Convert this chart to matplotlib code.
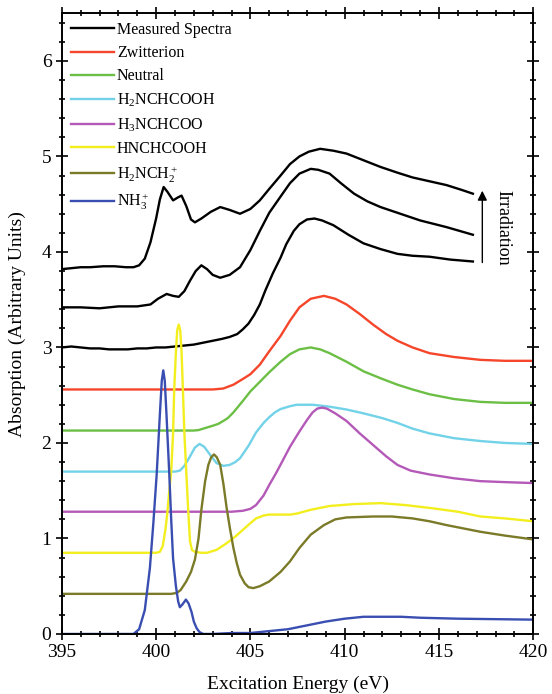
import numpy as np
import matplotlib
matplotlib.use('Agg')
import matplotlib.pyplot as plt
from matplotlib.ticker import MultipleLocator

plt.rcParams['font.family'] = ['Liberation Serif', 'DejaVu Serif']
plt.rcParams['mathtext.fontset'] = 'custom'
plt.rcParams['mathtext.rm'] = 'Liberation Serif'
plt.rcParams['mathtext.it'] = 'Liberation Serif:italic'

# measured spectra (three irradiation stages, already offset)
meas1_x = [395, 395.5, 396, 396.5, 397, 397.5, 398, 398.5, 399, 399.5, 400, 400.5, 401, 401.5, 402, 402.5,
           403, 403.5, 403.9, 404.3, 404.6, 404.9, 405.2, 405.5, 405.8, 406.2, 406.6, 406.9, 407.3, 407.6,
           408.0, 408.4, 408.8, 409.4, 410.2, 411.0, 411.9, 412.8, 413.6, 414.5, 415.6, 416.8]
meas1_y = [3.00, 3.01, 3.00, 2.99, 2.99, 2.98, 2.98, 2.98, 2.99, 2.99, 3.00, 3.00, 3.01, 3.02, 3.03, 3.05,
           3.07, 3.09, 3.11, 3.14, 3.19, 3.25, 3.34, 3.45, 3.60, 3.78, 3.94, 4.08, 4.22, 4.29,
           4.34, 4.35, 4.33, 4.28, 4.18, 4.09, 4.03, 3.98, 3.96, 3.95, 3.92, 3.90]
meas2_x = [395, 396, 397, 398, 399, 399.7, 400.1, 400.56, 400.9, 401.2, 401.5, 401.8, 402.1, 402.4, 402.7,
           403.0, 403.4, 403.9, 404.45, 405.0, 405.5, 406.0, 406.6, 407.1, 407.6, 408.2, 408.6, 409.2,
           409.8, 410.5, 411.2, 411.9, 412.8, 414.0, 415.4, 416.8]
meas2_y = [3.42, 3.42, 3.41, 3.43, 3.43, 3.45, 3.51, 3.56, 3.54, 3.53, 3.59, 3.70, 3.80, 3.86, 3.82,
           3.76, 3.73, 3.76, 3.84, 4.02, 4.22, 4.41, 4.58, 4.72, 4.82, 4.87, 4.86, 4.82,
           4.72, 4.61, 4.53, 4.47, 4.41, 4.33, 4.26, 4.18]
meas3_x = [395, 395.5, 396, 396.5, 397.2, 397.8, 398.4, 398.8, 399.1, 399.4, 399.7, 400.0, 400.2, 400.4,
           400.6, 400.9, 401.15, 401.35, 401.6, 401.85, 402.06, 402.4, 402.9, 403.4, 403.9, 404.45, 405.0,
           405.5, 406.0, 406.6, 407.1, 407.6, 408.1, 408.7, 409.4, 410.1, 411.0, 411.9, 412.8, 413.6,
           414.5, 415.4, 416.2, 416.8]
meas3_y = [3.82, 3.83, 3.84, 3.84, 3.85, 3.85, 3.84, 3.84, 3.86, 3.93, 4.10, 4.35, 4.55, 4.68,
           4.63, 4.54, 4.57, 4.59, 4.48, 4.34, 4.31, 4.35, 4.42, 4.47, 4.44, 4.40, 4.45,
           4.54, 4.66, 4.80, 4.92, 5.00, 5.05, 5.08, 5.06, 5.03, 4.96, 4.89, 4.83, 4.78,
           4.74, 4.70, 4.65, 4.61]

# calculated spectra
zwit_x = [395, 400, 403.0, 403.56, 404.1, 404.6, 405.0, 405.5, 406.0, 406.6, 407.1, 407.6, 408.2, 408.9,
          409.5, 410.1, 410.8, 411.5, 412.2, 412.8, 413.6, 414.5, 415.8, 417.2, 418.5, 420]
zwit_y = [2.56, 2.56, 2.56, 2.57, 2.61, 2.67, 2.72, 2.82, 2.96, 3.12, 3.28, 3.42, 3.51, 3.54,
          3.51, 3.45, 3.35, 3.24, 3.14, 3.07, 3.00, 2.94, 2.90, 2.87, 2.86, 2.86]
neut_x = [395, 400, 402.0, 402.25, 402.5, 403.0, 403.3, 403.56, 403.8, 404.1, 404.35, 404.6, 405.0, 405.5,
          406.0, 406.6, 407.1, 407.6, 408.2, 408.7, 409.2, 410.1, 411.0, 412.0, 412.8, 413.6, 414.5,
          415.8, 417.2, 418.5, 420]
neut_y = [2.13, 2.13, 2.13, 2.135, 2.15, 2.18, 2.20, 2.23, 2.26, 2.32, 2.38, 2.44, 2.54, 2.64,
          2.74, 2.85, 2.93, 2.98, 3.00, 2.98, 2.94, 2.85, 2.75, 2.67, 2.61, 2.56, 2.51,
          2.46, 2.43, 2.42, 2.42]
h2n_x = [395, 400, 401.0, 401.26, 401.5, 401.8, 402.05, 402.3, 402.55, 402.85, 403.2, 403.56, 403.9, 404.2,
         404.45, 404.9, 405.3, 405.7, 406.0, 406.3, 406.6, 407.1, 407.45, 408.3, 409.2, 410.1, 411.0,
         412.0, 412.8, 413.6, 414.5, 415.8, 417.2, 418.5, 420]
h2n_y = [1.70, 1.70, 1.70, 1.71, 1.76, 1.86, 1.95, 1.99, 1.96, 1.88, 1.79, 1.76, 1.77, 1.80,
         1.84, 1.97, 2.11, 2.21, 2.27, 2.32, 2.355, 2.385, 2.40, 2.40, 2.38, 2.35, 2.31,
         2.26, 2.21, 2.15, 2.10, 2.05, 2.02, 2.00, 1.99]
h3n_x = [395, 400, 404.0, 404.6, 405.0, 405.3, 405.7, 406.0, 406.35, 406.7, 407.1, 407.6, 408.0, 408.3,
         408.55, 408.8, 409.05, 409.5, 410.1, 410.8, 411.5, 412.2, 412.8, 413.5, 414.5, 415.8, 417.2,
         418.5, 420]
h3n_y = [1.28, 1.28, 1.28, 1.29, 1.31, 1.35, 1.45, 1.56, 1.68, 1.81, 1.96, 2.12, 2.24, 2.32,
         2.36, 2.37, 2.36, 2.31, 2.23, 2.10, 1.98, 1.86, 1.77, 1.71, 1.67, 1.63, 1.60,
         1.59, 1.58]
hnc_x = [395, 398, 400.0, 400.2, 400.35, 400.5, 400.6, 400.7, 400.8, 400.9, 400.96, 401.05, 401.12, 401.2,
         401.28, 401.35, 401.42, 401.5, 401.6, 401.7, 401.8, 401.9, 402.06, 402.4, 402.7, 403.2, 403.74,
         404.2, 404.6, 405.0, 405.3, 405.7, 406.0, 406.6, 407.1, 407.45, 408.2, 409.2, 410.5, 411.9,
         413.2, 414.5, 416.0, 417.2, 418.5, 420]
hnc_y = [0.85, 0.85, 0.85, 0.86, 0.92, 1.10, 1.28, 1.50, 1.70, 2.10, 2.56, 2.95, 3.18, 3.24,
         3.18, 2.95, 2.56, 2.10, 1.70, 1.30, 0.97, 0.88, 0.86, 0.85, 0.85, 0.88, 0.95,
         1.02, 1.09, 1.16, 1.21, 1.24, 1.25, 1.25, 1.25, 1.26, 1.30, 1.34, 1.36, 1.37,
         1.35, 1.32, 1.28, 1.23, 1.21, 1.18]
ch2_x = [395, 398, 400, 400.8, 401.1, 401.3, 401.6, 401.85, 402.06, 402.25, 402.4, 402.6, 402.77, 402.92,
         403.07, 403.22, 403.4, 403.57, 403.74, 403.92, 404.1, 404.28, 404.45, 404.7, 404.9, 405.15, 405.5,
         406.0, 406.6, 407.1, 407.6, 408.2, 408.9, 409.5, 410.1, 411.5, 412.5, 413.6, 414.5, 415.4,
         417.2, 418.5, 420]
ch2_y = [0.42, 0.42, 0.42, 0.42, 0.43, 0.46, 0.55, 0.65, 0.78, 1.00, 1.30, 1.60, 1.77, 1.85,
         1.88, 1.85, 1.77, 1.57, 1.32, 1.10, 0.90, 0.74, 0.62, 0.53, 0.49, 0.48, 0.50,
         0.55, 0.65, 0.76, 0.90, 1.04, 1.14, 1.20, 1.22, 1.23, 1.23, 1.21, 1.18, 1.14,
         1.07, 1.03, 0.99]
nh3_x = [395, 396, 397, 398, 398.8, 399.1, 399.4, 399.67, 399.85, 400.03, 400.2, 400.3, 400.38, 400.46,
         400.55, 400.7, 400.8, 400.9, 401.05, 401.17, 401.26, 401.4, 401.58, 401.72, 401.88, 402.0, 402.15,
         402.3, 402.5, 403, 404, 405, 406, 407, 408, 409, 410, 411, 412, 413, 414, 416, 418, 420]
nh3_y = [0, 0, 0, 0, 0.0, 0.05, 0.25, 0.69, 1.15, 1.67, 2.30, 2.65, 2.76, 2.65,
         2.30, 1.67, 1.20, 0.79, 0.50, 0.34, 0.28, 0.31, 0.36, 0.32, 0.23, 0.13, 0.06,
         0.02, 0.0, 0.0, 0.01, 0.01, 0.03, 0.05, 0.09, 0.13, 0.16, 0.18, 0.18, 0.18, 0.17, 0.16, 0.155, 0.15]

fig = plt.figure(figsize=(5.52, 6.94), dpi=100)
ax = fig.add_axes([0.112, 0.0865, 0.854, 0.8945])

lw = 1.7
ax.plot(meas1_x, meas1_y, color='black', lw=lw, label='Measured Spectra')
ax.plot(meas2_x, meas2_y, color='black', lw=lw)
ax.plot(meas3_x, meas3_y, color='black', lw=lw)
ax.plot(zwit_x, zwit_y, color='#f5452a', lw=lw, label='Zwitterion')
ax.plot(neut_x, neut_y, color='#6cbf45', lw=lw, label='Neutral')
ax.plot(h2n_x, h2n_y, color='#72d2e8', lw=lw, label='H$_2$NCHCOOH')
ax.plot(h3n_x, h3n_y, color='#b459b8', lw=lw, label='H$_3$NCHCOO')
ax.plot(hnc_x, hnc_y, color='#f3ee1e', lw=lw, label='HNCHCOOH')
ax.plot(ch2_x, ch2_y, color='#7a7a28', lw=lw, label='H$_2$NCH$_2^+$')
ax.plot(nh3_x, nh3_y, color='#3a4eb2', lw=lw, label='NH$_3^+$')

ax.annotate('', xy=(417.3, 4.67), xytext=(417.3, 3.86),
            arrowprops=dict(arrowstyle='-|>', color='black', lw=1.0, mutation_scale=14))
ax.text(418.4, 4.25, 'Irradiation', rotation=-90, ha='center', va='center', fontsize=13)

ax.set_xlim(395, 420)
ax.set_ylim(0, 6.5)
ax.xaxis.set_major_locator(MultipleLocator(5))
ax.xaxis.set_minor_locator(MultipleLocator(1))
ax.yaxis.set_major_locator(MultipleLocator(1))
ax.yaxis.set_minor_locator(MultipleLocator(0.2))
ax.tick_params(which='both', direction='inout', top=True, right=True, labelsize=14, width=1.2)
ax.tick_params(which='major', length=8)
ax.tick_params(which='minor', length=5)
for s in ax.spines.values():
    s.set_linewidth(1.4)

ax.set_xlabel('Excitation Energy (eV)', fontsize=14, labelpad=10)
ax.set_ylabel('Absorption (Arbitrary Units)', fontsize=14, labelpad=11)

ax.legend(loc='upper left', frameon=False, fontsize=11.5, handlelength=2.7, handletextpad=0.2,
          labelspacing=0.45, borderaxespad=0.3, borderpad=0.25)

fig.savefig('out.png', dpi=100)
